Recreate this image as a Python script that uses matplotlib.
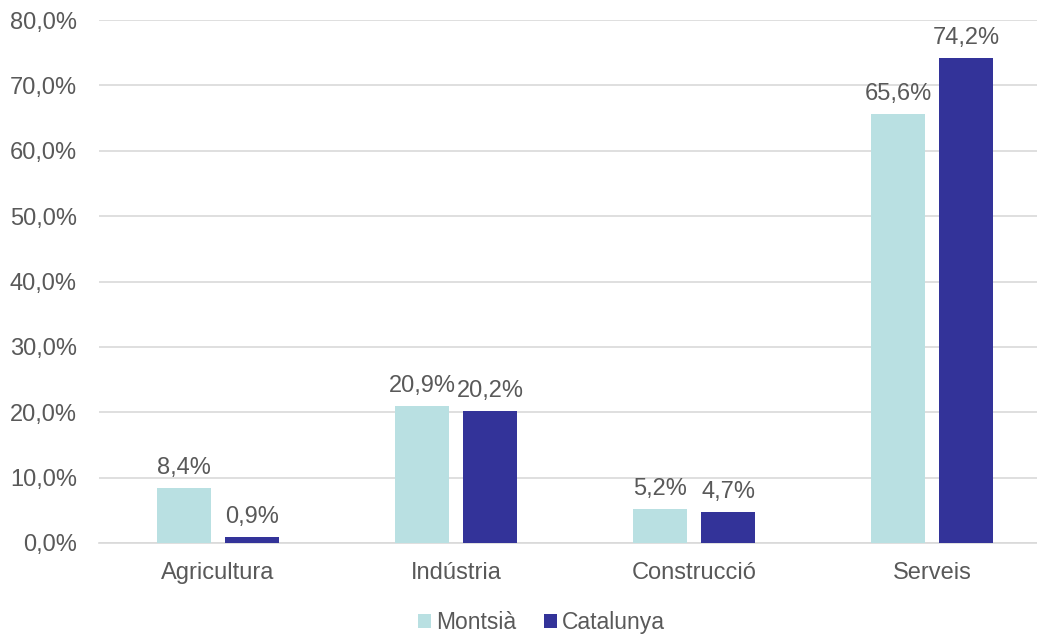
import matplotlib
matplotlib.use("Agg")
import numpy as np
import matplotlib.pyplot as plt
from matplotlib.ticker import FuncFormatter

plt.rcParams["font.family"] = ["Liberation Sans", "DejaVu Sans"]

categories = ["Agricultura", "Indústria", "Construcció", "Serveis"]
montsia = [8.4, 20.9, 5.2, 65.6]
catalunya = [0.9, 20.2, 4.7, 74.2]
series_names = ["Montsià", "Catalunya"]

text_color = "#595959"
c_montsia = "#B9E0E2"
c_catalunya = "#333399"

fig = plt.figure(figsize=(10.37, 6.34), dpi=100)
ax = fig.add_axes([99 / 1037, 91 / 634, 938 / 1037, 523 / 634])

x = np.arange(len(categories))
w = 0.227
off = 0.143

b1 = ax.bar(x - off, montsia, w, color=c_montsia, label=series_names[0], zorder=3)
b2 = ax.bar(x + off, catalunya, w, color=c_catalunya, label=series_names[1], zorder=3)

for bars, vals in [(b1, montsia), (b2, catalunya)]:
    for bar, v in zip(bars, vals):
        ax.text(
            bar.get_x() + bar.get_width() / 2,
            v + 1.4,
            f"{v:.1f}%".replace(".", ","),
            ha="center",
            va="bottom",
            fontsize=17,
            color=text_color,
        )

ax.set_ylim(0, 80)
ax.set_xlim(-0.5, 3.5 - 14 / 238)
ax.set_yticks(np.arange(0, 81, 10))
ax.yaxis.set_major_formatter(FuncFormatter(lambda v, p: f"{v:.1f}%".replace(".", ",")))
ax.set_xticks(x)
ax.set_xticklabels(categories)
ax.tick_params(axis="both", length=0, labelsize=17, colors=text_color)
ax.tick_params(axis="x", pad=14)
ax.tick_params(axis="y", pad=16)

ax.grid(axis="y", color="#D9D9D9", linewidth=1.2, zorder=0)
for s in ["top", "right", "left"]:
    ax.spines[s].set_visible(False)
ax.spines["bottom"].set_color("#D9D9D9")
ax.spines["bottom"].set_linewidth(1.2)

leg = fig.legend(
    loc="lower center",
    bbox_to_anchor=(0.522, -0.033),
    ncol=2,
    frameon=False,
    fontsize=16.5,
    handlelength=0.6,
    handleheight=0.6,
    handletextpad=0.2,
    columnspacing=1.2,
)
for t in leg.get_texts():
    t.set_color(text_color)

fig.savefig("out.png", dpi=100)
